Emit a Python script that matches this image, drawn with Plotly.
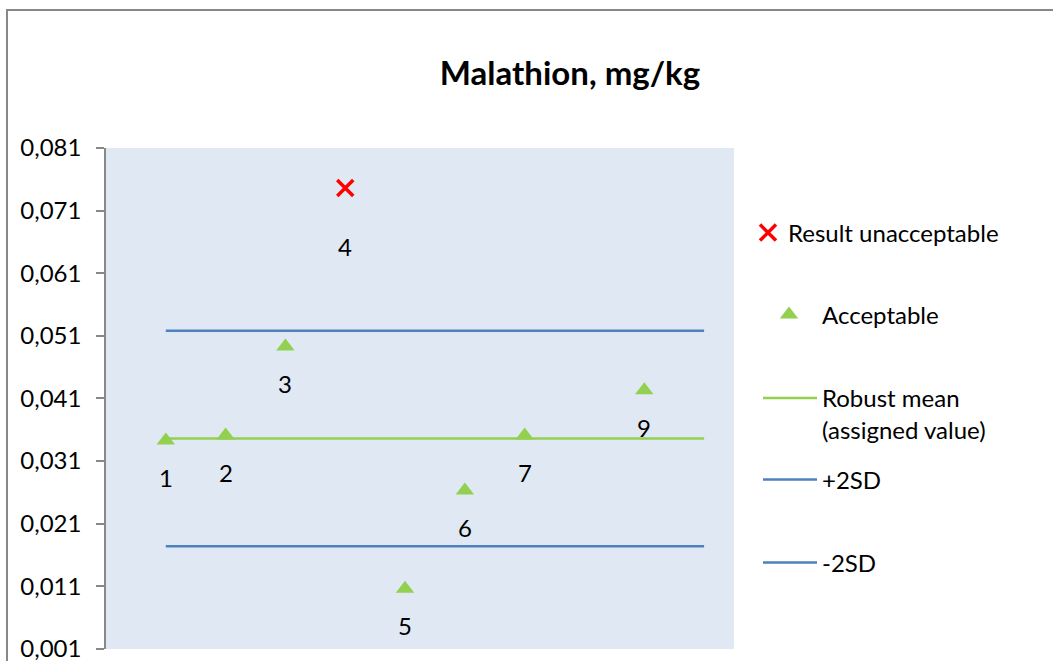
import plotly.graph_objects as go

# Data
labs_accept = [1, 2, 3, 5, 6, 7, 9]
vals_accept = [0.0343, 0.0351, 0.0493, 0.0106, 0.0263, 0.0351, 0.0423]
labs_unacc = [4]
vals_unacc = [0.0746]
line_x = [1, 10]
robust_mean = 0.0346
plus_2sd = 0.0518
minus_2sd = 0.0174
tick_vals = [0.001, 0.011, 0.021, 0.031, 0.041, 0.051, 0.061, 0.071, 0.081]

W, H = 1053, 661
L, R, T, B = 106, 1053 - 734, 148, 661 - 649
pw, ph = W - L - R, H - T - B

FONT = "Lato"
FS = 24


def px_x(p):
    return (p - L) / pw


def px_y(p):
    return (H - B - p) / ph


fig = go.Figure()

fig.add_trace(go.Scatter(
    x=labs_unacc, y=vals_unacc, mode="markers", name="Result unacceptable",
    marker=dict(symbol="x-thin", size=16, line=dict(color="#FF0000", width=3.5), color="#FF0000"),
    legend="legend",
))
fig.add_trace(go.Scatter(
    x=labs_accept, y=vals_accept, mode="markers", name="Acceptable",
    marker=dict(symbol="triangle-up", size=16, color="#92D050"),
    legend="legend2",
))
fig.add_trace(go.Scatter(
    x=line_x, y=[robust_mean] * 2, mode="lines", name="Robust mean<br>(assigned value)",
    line=dict(color="#92D050", width=2.5), legend="legend3",
))
fig.add_trace(go.Scatter(
    x=line_x, y=[plus_2sd] * 2, mode="lines", name="+2SD",
    line=dict(color="#4F81BD", width=2.5), legend="legend4",
))
fig.add_trace(go.Scatter(
    x=line_x, y=[minus_2sd] * 2, mode="lines", name="-2SD",
    line=dict(color="#4F81BD", width=2.5), legend="legend5",
))

for xv, yv in zip(labs_accept, vals_accept):
    fig.add_annotation(x=xv, y=yv, text=str(xv), showarrow=False, yshift=-37,
                       font=dict(size=FS, color="black", family=FONT))
for xv, yv in zip(labs_unacc, vals_unacc):
    fig.add_annotation(x=xv, y=yv, text=str(xv), showarrow=False, yshift=-58,
                       font=dict(size=FS, color="black", family=FONT))

# outer chart border
fig.add_shape(type="rect", xref="paper", yref="paper",
              x0=px_x(7), x1=px_x(W + 20), y0=px_y(H + 20), y1=px_y(10),
              line=dict(color="#888888", width=2), fillcolor="rgba(0,0,0,0)", layer="below")


def leg(xp, yp, iw, valign="middle"):
    return dict(x=px_x(xp), xanchor="left", y=px_y(yp), yanchor="middle",
                bgcolor="rgba(0,0,0,0)", font=dict(size=FS, family=FONT, color="black"),
                itemwidth=iw, valign=valign, borderwidth=0)


fig.update_layout(
    width=W, height=H,
    margin=dict(l=L, r=R, t=T, b=B, autoexpand=False),
    paper_bgcolor="white", plot_bgcolor="#E0E8F3",
    separators=",.",
    font=dict(family=FONT, size=FS, color="black"),
    title=dict(text="<b>Malathion, mg/kg</b>", x=570 / W, xanchor="center",
               y=1 - 73 / H, yanchor="middle", font=dict(size=33, family=FONT)),
    xaxis=dict(range=[0, 10.5], showgrid=False, zeroline=False, showticklabels=False,
               showline=False, ticks=""),
    yaxis=dict(range=[0.00099, 0.081], tickvals=tick_vals, tickformat=".3f",
               showgrid=False, zeroline=False, showline=True, linecolor="#888888", linewidth=1.5,
               ticks="outside", ticklen=8, tickcolor="#888888", tickwidth=1.5,
               ticklabelstandoff=10, ticklabeloverflow="allow",
               tickfont=dict(size=FS, family=FONT)),
    legend=leg(748, 233, 30),
    legend2=leg(756, 315, 56),
    legend3=leg(758, 414, 54, valign="top"),
    legend4=leg(758, 480, 54),
    legend5=leg(758, 563, 54),
    showlegend=True,
)

fig.write_html("out.html", config={"displayModeBar": False},
               post_script="document.body.style.margin='0px';document.body.style.overflow='hidden';")
